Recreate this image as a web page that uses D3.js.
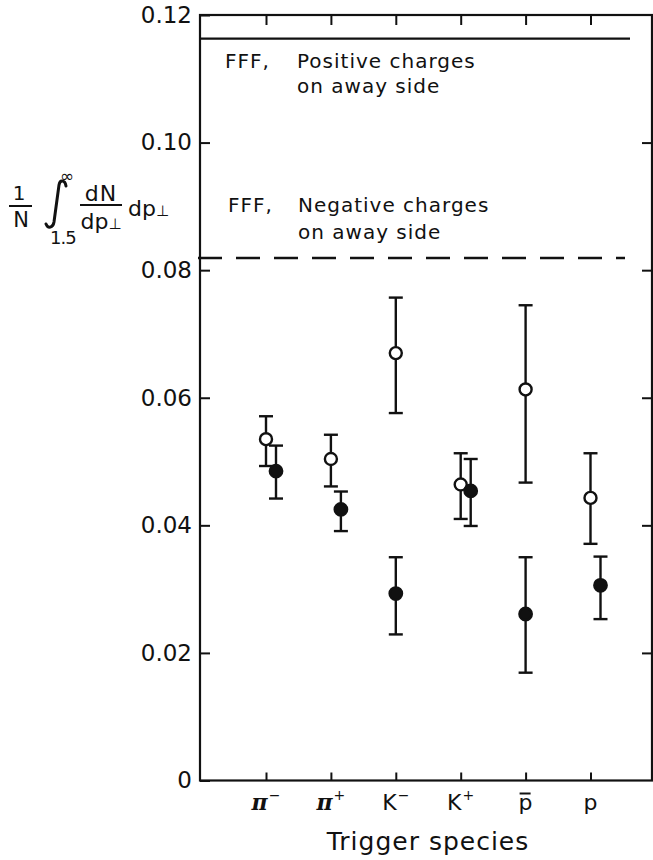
<!DOCTYPE html>
<html>
<head>
<meta charset="utf-8">
<script src="https://cdn.jsdelivr.net/npm/d3@7"></script>
<style>
  body { margin: 0; background: #fff; }
  svg { display: block; font-family: "DejaVu Sans", sans-serif; }
</style>
</head>
<body>
<svg id="chart" width="653" height="860"></svg>
<script>
// Trigger species (keys) and how each label is lettered
const species      = ["piMinus", "piPlus", "kMinus", "kPlus", "pBar", "p"];
const speciesBase  = ["π", "π", "K", "K", "p", "p"];
const speciesSup   = ["−", "+", "−", "+", "", ""];
const speciesBar   = [false, false, false, false, true, false];

// Open circles: value with lower / upper error limits
const openValue  = [0.0535, 0.0504, 0.0670, 0.0464, 0.0613, 0.0443];
const openLow    = [0.0493, 0.0461, 0.0576, 0.0410, 0.0467, 0.0371];
const openHigh   = [0.0571, 0.0542, 0.0757, 0.0513, 0.0745, 0.0513];

// Filled circles: value with lower / upper error limits
const filledValue = [0.0485, 0.0425, 0.0293, 0.0454, 0.0261, 0.0306];
const filledLow   = [0.0442, 0.0391, 0.0229, 0.0399, 0.0169, 0.0253];
const filledHigh  = [0.0525, 0.0453, 0.0350, 0.0504, 0.0350, 0.0351];

// FFF reference levels
const positiveLevel = 0.1163;
const negativeLevel = 0.0819;

// Y axis ticks
const yTicks      = [0, 0.02, 0.04, 0.06, 0.08, 0.10, 0.12];
const yTickLabels = ["0", "0.02", "0.04", "0.06", "0.08", "0.10", "0.12"];

const ink = "#111";
const svg = d3.select("#chart");

const x = d3.scalePoint().domain(species).range([266, 590.5]);
const y = d3.scaleLinear().domain([0, 0.12]).range([780.5, 15]);

const plotLeft = 200, plotRight = 652;
const plotTop = y(0.12), plotBottom = y(0);

// Left axis with labels, ticks pointing inward
const gLeft = svg.append("g")
  .attr("transform", `translate(${plotLeft},0)`)
  .call(d3.axisLeft(y).tickValues(yTicks)
    .tickFormat((d, i) => yTickLabels[i])
    .tickSize(-10).tickSizeOuter(0).tickPadding(8));

// Right axis: inward ticks only
const gRight = svg.append("g")
  .attr("transform", `translate(${plotRight},0)`)
  .call(d3.axisRight(y).tickValues(yTicks.slice(1, -1))
    .tickFormat("").tickSize(-10).tickSizeOuter(0));

// Top axis: inward ticks at each species
const gTop = svg.append("g")
  .attr("transform", `translate(0,${plotTop})`)
  .call(d3.axisTop(x).tickFormat("").tickSize(-10).tickSizeOuter(0));

// Bottom axis: inward ticks, labels drawn separately
const gBottom = svg.append("g")
  .attr("transform", `translate(0,${plotBottom})`)
  .call(d3.axisBottom(x).tickFormat("").tickSize(-8).tickSizeOuter(0));

[gLeft, gRight, gTop, gBottom].forEach(g => {
  g.select(".domain").remove();
  g.selectAll(".tick line").attr("stroke", ink).attr("stroke-width", 2);
});
gLeft.selectAll(".tick text")
  .attr("fill", ink)
  .attr("font-family", "DejaVu Sans")
  .attr("font-size", 23);

// Frame
svg.append("rect")
  .attr("x", plotLeft).attr("y", plotTop)
  .attr("width", plotRight - plotLeft).attr("height", plotBottom - plotTop)
  .attr("fill", "none").attr("stroke", ink).attr("stroke-width", 2.2);

// Species labels under the axis
const labelY = plotBottom + 29;
const labels = svg.append("g").selectAll("g.lab")
  .data(species)
  .join("g")
  .attr("class", "lab")
  .attr("transform", d => `translate(${x(d)},${labelY})`);

labels.each(function(d, i) {
  const g = d3.select(this);
  const t = g.append("text")
    .attr("text-anchor", "middle")
    .attr("fill", ink)
    .attr("font-size", 22);
  const isPi = speciesBase[i] === "π";
  t.append("tspan")
    .attr("font-family", isPi ? "DejaVu Serif" : "DejaVu Sans")
    .attr("font-style", isPi ? "italic" : "normal")
    .attr("font-weight", isPi ? "bold" : "normal")
    .text(speciesBase[i]);
  if (speciesSup[i]) {
    t.append("tspan")
      .attr("font-size", 14)
      .attr("dy", -10)
      .attr("dx", 1)
      .text(speciesSup[i]);
  }
  if (speciesBar[i]) {
    g.append("line")
      .attr("x1", -6).attr("x2", 5)
      .attr("y1", -16).attr("y2", -16)
      .attr("stroke", ink).attr("stroke-width", 2);
  }
});

// Axis title
svg.append("text")
  .attr("x", 428).attr("y", 850)
  .attr("text-anchor", "middle")
  .attr("font-size", 25)
  .attr("letter-spacing", 1)
  .attr("fill", ink)
  .text("Trigger species");

// FFF reference lines
svg.append("line")
  .attr("x1", plotLeft).attr("x2", 630)
  .attr("y1", y(positiveLevel)).attr("y2", y(positiveLevel))
  .attr("stroke", ink).attr("stroke-width", 2.4);

svg.append("line")
  .attr("x1", plotLeft - 2).attr("x2", 625)
  .attr("y1", y(negativeLevel)).attr("y2", y(negativeLevel))
  .attr("stroke", ink).attr("stroke-width", 2.4)
  .attr("stroke-dasharray", "24 14");

// Annotations for the reference lines
const note = (tx, ty, s) => svg.append("text")
  .attr("x", tx).attr("y", ty)
  .attr("font-size", 20).attr("letter-spacing", 1)
  .attr("fill", ink).text(s);
note(225, 68, "FFF,");
note(297, 68, "Positive charges");
note(297, 93, "on away side");
note(228, 212, "FFF,");
note(298, 212, "Negative charges");
note(298, 239, "on away side");

// Vertical label: (1/N) ∫ from 1.5 to ∞ of dN/dp⊥ dp⊥
const yl = svg.append("g").attr("fill", ink).attr("font-family", "DejaVu Sans");
yl.append("text").attr("x", 19).attr("y", 200).attr("text-anchor", "middle")
  .attr("font-size", 20).text("1");
yl.append("line").attr("x1", 9).attr("x2", 32).attr("y1", 206).attr("y2", 206)
  .attr("stroke", ink).attr("stroke-width", 2);
yl.append("text").attr("x", 21).attr("y", 227).attr("text-anchor", "middle")
  .attr("font-size", 21).text("N");
yl.append("path")
  .attr("d", "M66,186 C65,180 60,179 59,185 L54,222 C53,228 48,229 46,224")
  .attr("fill", "none").attr("stroke", ink).attr("stroke-width", 3)
  .attr("stroke-linecap", "round");
yl.append("text").attr("x", 67).attr("y", 182).attr("text-anchor", "middle")
  .attr("font-size", 17).text("∞");
yl.append("text").attr("x", 50).attr("y", 244)
  .attr("font-size", 18).attr("letter-spacing", -1).text("1.5");
yl.append("text").attr("x", 101).attr("y", 201).attr("text-anchor", "middle")
  .attr("font-size", 22).attr("letter-spacing", 1).text("dN");
yl.append("line").attr("x1", 80).attr("x2", 122).attr("y1", 205).attr("y2", 205)
  .attr("stroke", ink).attr("stroke-width", 2);
const den = yl.append("text").attr("x", 101).attr("y", 229).attr("text-anchor", "middle")
  .attr("font-size", 22);
den.append("tspan").text("dp");
den.append("tspan").attr("font-size", 15).text("⊥");
const tail = yl.append("text").attr("x", 128).attr("y", 216).attr("font-size", 22);
tail.append("tspan").text("dp");
tail.append("tspan").attr("font-size", 15).text("⊥");

// Error bars and markers
const capHalf = 7;
function errorBar(g, cx, lo, hi) {
  g.append("line").attr("x1", cx).attr("x2", cx)
    .attr("y1", y(lo)).attr("y2", y(hi));
  g.append("line").attr("x1", cx - capHalf).attr("x2", cx + capHalf)
    .attr("y1", y(lo)).attr("y2", y(lo));
  g.append("line").attr("x1", cx - capHalf).attr("x2", cx + capHalf)
    .attr("y1", y(hi)).attr("y2", y(hi));
}

const marks = svg.append("g")
  .attr("stroke", ink).attr("stroke-width", 2.4);

species.forEach((s, i) => {
  // shift the filled point sideways when its bar would crowd the open one
  const gap = Math.max(openLow[i] - filledHigh[i], filledLow[i] - openHigh[i]);
  const dodge = gap < 0.003 ? 10 : 0;
  const xo = x(s), xf = x(s) + dodge;

  errorBar(marks, xo, openLow[i], openHigh[i]);
  errorBar(marks, xf, filledLow[i], filledHigh[i]);

  marks.append("circle")
    .attr("cx", xo).attr("cy", y(openValue[i])).attr("r", 6)
    .attr("fill", "#fff");
  marks.append("circle")
    .attr("cx", xf).attr("cy", y(filledValue[i])).attr("r", 6.2)
    .attr("fill", ink);
});
</script>
</body>
</html>
